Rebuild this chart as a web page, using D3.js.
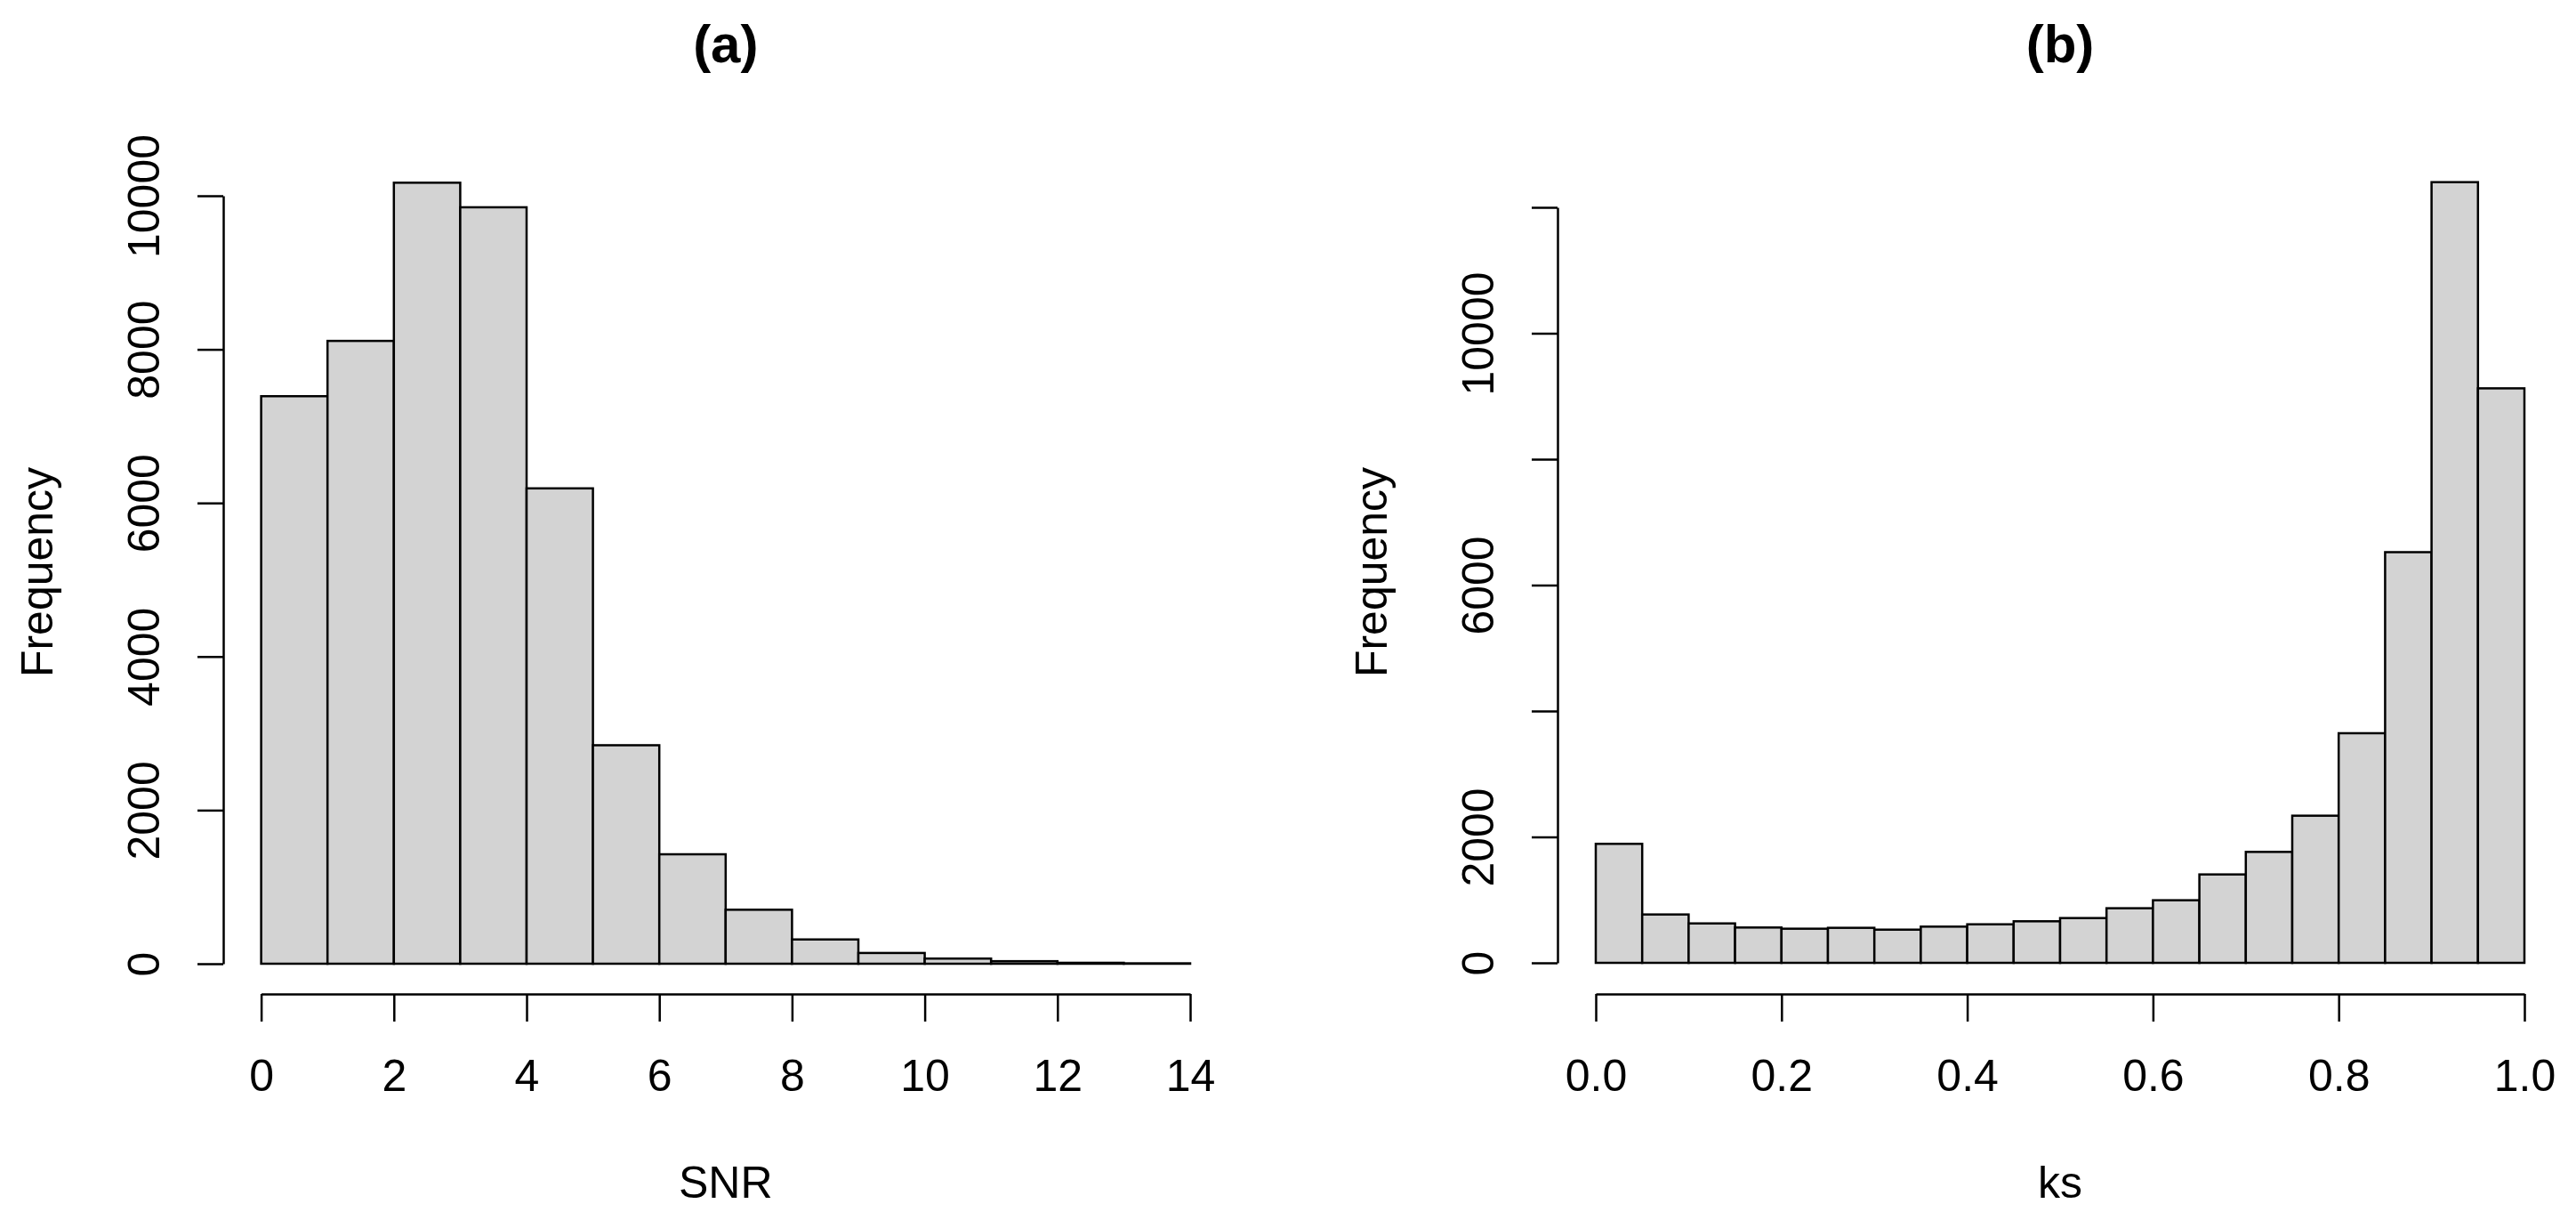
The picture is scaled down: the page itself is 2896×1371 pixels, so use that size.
<!DOCTYPE html>
<html>
<head>
<meta charset="utf-8">
<script src="https://cdn.jsdelivr.net/npm/d3@7"></script>
<style>
  body { margin: 0; background: #fff; }
  text { font-family: "Liberation Sans", Arial, sans-serif; fill: #000; }
</style>
</head>
<body>
<div id="chart"></div>
<script>

// Panel (a): SNR histogram, bins of width 1 from 0 to 14
var snr_breaks = [0, 1, 2, 3, 4, 5, 6, 7, 8, 9, 10, 11, 12, 13, 14];
var snr_counts = [7390, 8110, 10170, 9850, 6190, 2845, 1425, 703, 316, 140, 67, 33, 12, 5];
var snr_xticks = [0, 2, 4, 6, 8, 10, 12, 14];
var snr_yticks = [0, 2000, 4000, 6000, 8000, 10000];

// Panel (b): ks histogram, bins of width 0.05 from 0 to 1
var ks_breaks = [0, 0.05, 0.1, 0.15, 0.2, 0.25, 0.3, 0.35, 0.4, 0.45, 0.5,
                 0.55, 0.6, 0.65, 0.7, 0.75, 0.8, 0.85, 0.9, 0.95, 1.0];
var ks_counts = [1890, 768, 626, 561, 542, 556, 527, 575, 612, 660,
                 711, 867, 994, 1404, 1762, 2337, 3647, 6523, 12400, 9125];
var ks_xticks = [0, 0.2, 0.4, 0.6, 0.8, 1.0];
var ks_yticks = [0, 2000, 4000, 6000, 8000, 10000, 12000];
// R drops the labels that would overlap, only these are printed
var ks_ylabels = [0, 2000, 6000, 10000];

var width = 2896, height = 1371;
var font_size = 50;

var svg = d3.select('#chart').append('svg')
            .attr('width', width)
            .attr('height', height);


function drawPanel(opts) {
  var x = d3.scaleLinear().domain(opts.xdomain).range(opts.xrange);
  var y = d3.scaleLinear().domain(opts.ydomain).range(opts.yrange);
  var g = svg.append('g');

  // Bars
  var bins = opts.counts.map(function(c, i) {
    return {x0: opts.breaks[i], x1: opts.breaks[i + 1], count: c};
  });
  g.selectAll('rect.bar')
   .data(bins)
   .enter().append('rect')
   .attr('class', 'bar')
   .attr('x', function(d) { return x(d.x0); })
   .attr('y', function(d) { return y(d.count); })
   .attr('width', function(d) { return x(d.x1) - x(d.x0); })
   .attr('height', function(d) { return y(0) - y(d.count); })
   .attr('fill', '#d3d3d3')
   .attr('stroke', '#000')
   .attr('stroke-width', 2.5);

  // x axis (detached below the bars, R style)
  var xaxis = g.append('g')
               .attr('transform', 'translate(0,' + opts.xaxis_y + ')')
               .call(d3.axisBottom(x)
                       .tickValues(opts.xticks)
                       .tickSize(31)
                       .tickSizeOuter(0)
                       .tickPadding(42)
                       .tickFormat(opts.xformat));
  xaxis.select('.domain').attr('stroke-width', 2.5);
  xaxis.selectAll('.tick line').attr('stroke-width', 2.5);
  xaxis.selectAll('.tick text')
       .attr('font-size', font_size)
       .style('font-family', '"Liberation Sans", Arial, sans-serif');

  // y axis (detached left of the bars, labels rotated)
  var yaxis = g.append('g')
               .attr('transform', 'translate(' + opts.yaxis_x + ',0)')
               .call(d3.axisLeft(y)
                       .tickValues(opts.yticks)
                       .tickSize(29)
                       .tickSizeOuter(0)
                       .tickFormat(function(d) {
                         return opts.ylabels.indexOf(d) >= 0 ? String(d) : '';
                       }));
  yaxis.select('.domain').attr('stroke-width', 2.5);
  yaxis.selectAll('.tick line').attr('stroke-width', 2.5);
  yaxis.selectAll('.tick text')
       .attr('font-size', font_size)
       .style('font-family', '"Liberation Sans", Arial, sans-serif')
       .attr('x', 0)
       .attr('y', -72)
       .attr('dy', null)
       .attr('text-anchor', 'middle')
       .attr('transform', 'rotate(-90)');

  // Title
  g.append('text')
   .attr('x', (opts.xrange[0] + opts.xrange[1]) / 2)
   .attr('y', 70)
   .attr('text-anchor', 'middle')
   .attr('font-size', 60)
   .attr('font-weight', 'bold')
   .text(opts.title);

  // x label
  g.append('text')
   .attr('x', (opts.xrange[0] + opts.xrange[1]) / 2)
   .attr('y', 1346)
   .attr('text-anchor', 'middle')
   .attr('font-size', font_size)
   .text(opts.xlabel);

  // y label
  g.append('text')
   .attr('transform', 'translate(' + (opts.yaxis_x - 192) + ',643) rotate(-90)')
   .attr('text-anchor', 'middle')
   .attr('font-size', font_size)
   .text('Frequency');

} // End of drawPanel() function


drawPanel({
  breaks: snr_breaks, counts: snr_counts,
  xdomain: [0, 14], xrange: [293.6, 1338],
  ydomain: [0, 10000], yrange: [1083, 220],
  xticks: snr_xticks, yticks: snr_yticks, ylabels: snr_yticks,
  xformat: d3.format('d'),
  xaxis_y: 1117, yaxis_x: 251,
  title: '(a)', xlabel: 'SNR'
});

drawPanel({
  breaks: ks_breaks, counts: ks_counts,
  xdomain: [0, 1], xrange: [1794, 2838],
  ydomain: [0, 12000], yrange: [1082, 233],
  xticks: ks_xticks, yticks: ks_yticks, ylabels: ks_ylabels,
  xformat: d3.format('.1f'),
  xaxis_y: 1117, yaxis_x: 1751,
  title: '(b)', xlabel: 'ks'
});

</script>
</body>
</html>
